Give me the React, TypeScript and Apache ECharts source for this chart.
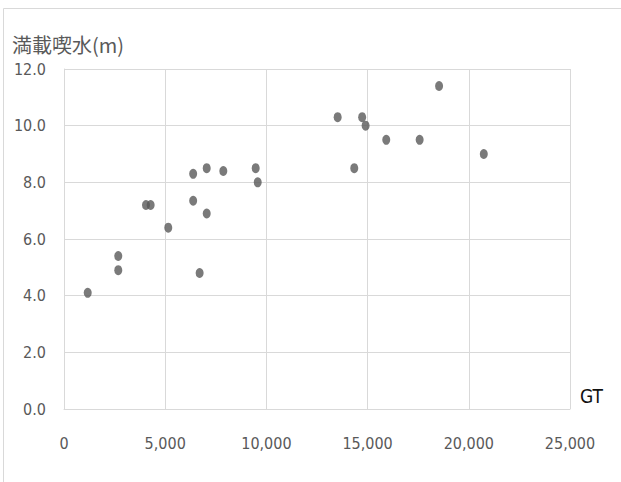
import React, { useEffect, useRef } from "react";
import * as echarts from "echarts";

const gtValues = [1170, 2680, 2680, 4050, 4280, 5150, 6380, 7050, 7870, 9470, 9570, 6380, 7050, 6700, 18530, 13520, 14730, 14900, 15920, 17570, 20740, 14340];
const draftValues = [4.1, 5.4, 4.9, 7.2, 7.2, 6.4, 8.3, 8.5, 8.4, 8.5, 8.0, 7.35, 6.9, 4.8, 11.4, 10.3, 10.3, 10.0, 9.5, 9.5, 9.0, 8.5];
const yTitle = "満載喫水(m)";
const xTitle = "GT";

const numFont = "'Liberation Sans Narrow', 'DejaVu Sans Condensed', 'Noto Sans', sans-serif";

export default function App() {
  const ref = useRef<HTMLDivElement>(null);
  useEffect(() => {
    if (!ref.current) return;
    const chart = echarts.init(ref.current, undefined, { renderer: "svg" });
    const points = gtValues.map((g, i) => [g, draftValues[i]]);
    chart.setOption({
      animation: false,
      backgroundColor: "#ffffff",
      title: [
        {
          text: yTitle,
          left: 7,
          top: 29,
          textStyle: { fontFamily: "'Noto Sans CJK JP', sans-serif", fontSize: 20, fontWeight: "normal", color: "#595959" },
        },
        {
          text: xTitle,
          left: 575,
          top: 381,
          textStyle: { fontFamily: numFont, fontSize: 19, fontWeight: "normal", color: "#111111" },
        },
      ],
      graphic: [
        {
          type: "rect",
          shape: { x: 3.5, y: 8.5, width: 700, height: 600 },
          style: { fill: "none", stroke: "#d9d9d9", lineWidth: 1 },
          silent: true,
        },
      ],
      grid: { left: 64, right: 51, top: 69, bottom: 73, containLabel: false },
      xAxis: {
        type: "value",
        min: 0,
        max: 25000,
        interval: 5000,
        axisLine: { show: true, lineStyle: { color: "#d9d9d9" } },
        axisTick: { show: false },
        splitLine: { show: true, lineStyle: { color: "#d9d9d9" } },
        axisLabel: {
          margin: 26,
          fontFamily: numFont,
          fontSize: 16,
          color: "#595959",
          formatter: (v: number) => v.toLocaleString("en-US"),
        },
      },
      yAxis: {
        type: "value",
        min: 0,
        max: 12,
        interval: 2,
        axisLine: { show: true, lineStyle: { color: "#d9d9d9" } },
        axisTick: { show: false },
        splitLine: { show: true, lineStyle: { color: "#d9d9d9" } },
        axisLabel: {
          margin: 18,
          fontFamily: numFont,
          fontSize: 16,
          color: "#595959",
          formatter: (v: number) => v.toFixed(1),
        },
      },
      series: [
        {
          type: "scatter",
          data: points,
          symbol: "circle",
          symbolSize: [8, 10],
          itemStyle: { color: "#595959" },
        },
      ],
    });
    return () => chart.dispose();
  }, []);
  return (
    <div
      ref={ref}
      style={{ position: "fixed", left: 0, top: 0, width: 621, height: 482 }}
    />
  );
}
